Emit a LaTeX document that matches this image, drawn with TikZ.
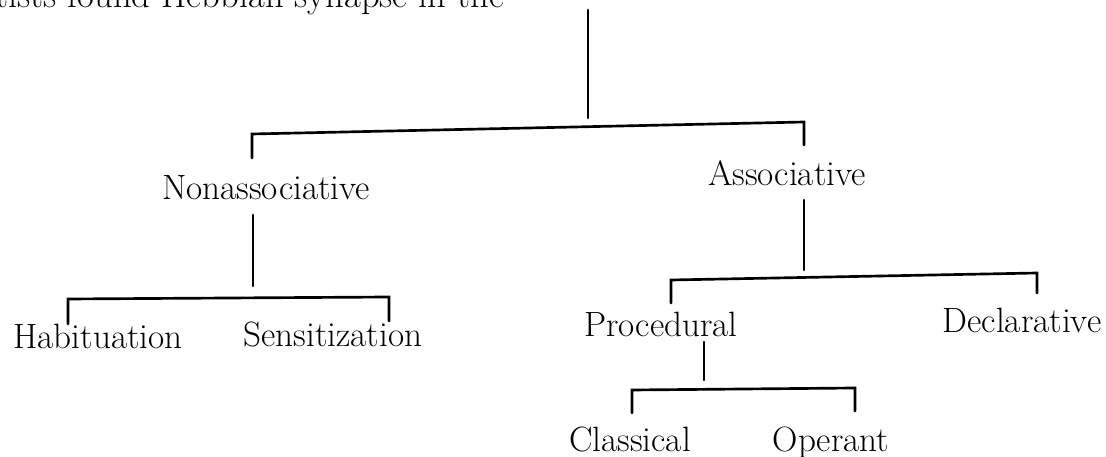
\documentclass[tikz,border=0pt]{standalone}
\usepackage{tikz}
\usetikzlibrary{positioning}
\tikzset{
    lbl/.style={font=\fontsize{25}{30}\selectfont, inner sep=0pt, anchor=base},
    branch/.style={line width=1.9pt, line cap=round},
  }
\begin{document}
\begin{tikzpicture}[x=0.025cm,y=-0.025cm]
				  \useasboundingbox (0,0) rectangle (1106,457);
				  \clip (0,0) rectangle (1106,457);
				  %ligne du haut, coupee
				  \node[lbl, anchor=base west, font=\fontsize{26}{30}\selectfont] (hebb) at (-5,8) {tists found Hebbian synapse in the};
				  
				  \node[lbl] (nonassoc) at (266,200) {Nonassociative};
				  \node[lbl] (assoc) at (787,186) {Associative};
				  \node[lbl] (habit) at (98,349) {Habituation};
				  \node[lbl] (sensit) at (333,347) {Sensitization};
				  \node[lbl] (proc) at (661,337) {Procedural};
				  \node[lbl] (decl) at (1022,333) {Declarative};
				  \node[lbl] (class) at (630,452) {Classical};
				  \node[lbl] (oper) at (831,452) {Operant};
				  
				  \coordinate(R1) at (588,10);
				  \coordinate(R2) at (588,118);
				  \coordinate(A1) at (252,158);
				  \coordinate(A2) at (252,134);
				  \coordinate(A3) at (804,122);
				  \coordinate(A4) at (804,145);
				  \draw[branch] (R1) -- (R2);
				  \draw[branch] (A1) -- (A2) -- (A3) -- (A4);
				  
				  \coordinate(N1) at (253,215);
				  \coordinate(N2) at (253,286);
				  \coordinate(N3) at (68,324);
				  \coordinate(N4) at (68,299);
				  \coordinate(N5) at (389,297);
				  \coordinate(N6) at (389,321);
				  \draw[branch] (N1) -- (N2);
				  \draw[branch] (N3) -- (N4) -- (N5) -- (N6);
				  
				  \coordinate(S1) at (804,200);
				  \coordinate(S2) at (804,270);
				  \coordinate(S3) at (671,303);
				  \coordinate(S4) at (671,280);
				  \coordinate(S5) at (1037,273);
				  \coordinate(S6) at (1037,293);
				  \draw[branch] (S1) -- (S2);
				  \draw[branch] (S3) -- (S4) -- (S5) -- (S6);
				  
				  \coordinate(P1) at (704,342);
				  \coordinate(P2) at (704,380);
				  \coordinate(P3) at (632,413);
				  \coordinate(P4) at (632,390);
				  \coordinate(P5) at (855,388);
				  \coordinate(P6) at (855,411);
				  \draw[branch] (P1) -- (P2);
				  \draw[branch] (P3) -- (P4) -- (P5) -- (P6);
\end{tikzpicture}
\end{document}
